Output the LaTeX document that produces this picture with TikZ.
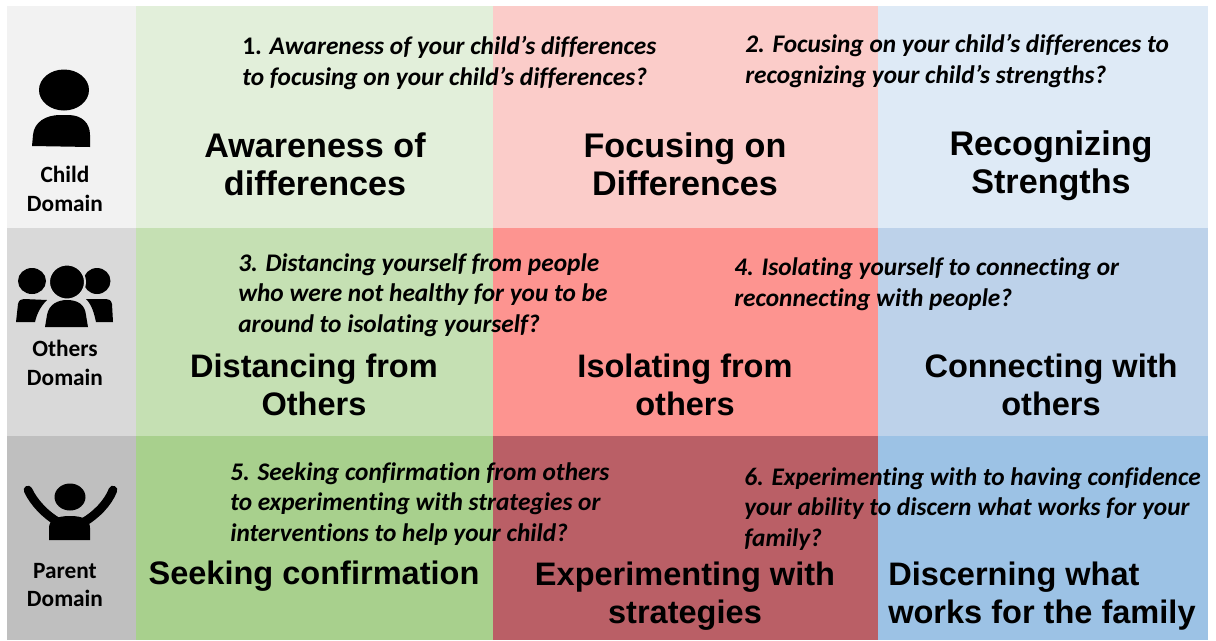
\documentclass[tikz,border=0pt]{standalone}
\usepackage{fontspec}
\setmainfont{Liberation Sans}
\newfontfamily\notefont[Ligatures=NoCommon]{Carlito}
\usetikzlibrary{calc}
\definecolor{childgray}{HTML}{F2F2F2}
\definecolor{othersgray}{HTML}{D9D9D9}
\definecolor{parentgray}{HTML}{BFBFBF}
\definecolor{childgreen}{HTML}{E2EFDA}
\definecolor{othersgreen}{HTML}{C5E0B3}
\definecolor{parentgreen}{HTML}{A8D08D}
\definecolor{childred}{HTML}{FBCCC9}
\definecolor{othersred}{HTML}{FD9490}
\definecolor{parentred}{HTML}{BA5F66}
\definecolor{childblue}{HTML}{DEEAF6}
\definecolor{othersblue}{HTML}{BDD2EA}
\definecolor{parentblue}{HTML}{9CC2E5}
\tikzset{
  stagelabel/.style={align=center,font=\fontsize{24.4}{28.5}\selectfont\bfseries,text=black},
  stagetop/.style={stagelabel,font=\fontsize{25.6}{28.8}\selectfont\bfseries},
  domainlabel/.style={align=center,font=\notefont\fontsize{17.5}{21.5}\selectfont\bfseries,text=black},
  question/.style={align=left,anchor=west,inner sep=0pt,font=\notefont\fontsize{19}{23}\selectfont\bfseries\itshape,text=black}
}

\begin{document}
\begin{tikzpicture}[x=0.75pt,y=-0.75pt]
\useasboundingbox (0,0) rectangle (1216,640);
% Grid of coloured cells
\foreach \xa/\xb/\ya/\yb/\col in {
    7/136/6/228/childgray,7/136/228/436/othersgray,7/136/436/640/parentgray,
    136/493/6/228/childgreen,136/493/228/436/othersgreen,136/493/436/640/parentgreen,
    493/878/6/228/childred,493/878/228/436/othersred,493/878/436/640/parentred,
    878/1208/6/228/childblue,878/1208/228/436/othersblue,878/1208/436/640/parentblue} {
    \fill[\col] (\xa,\ya) rectangle (\xb,\yb);
}
% Child icon
\fill[black] (64,90) ellipse (25 and 20.5);
\fill[black] (32,146) -- (33,135) .. controls (34,122) and (46,115) .. (60,115)
    -- (68,115) .. controls (82,115) and (90,123) .. (90,135) -- (90,147) -- cycle;
% Others icon
\fill[black] (32,281) ellipse (14 and 13);
\fill[black] (97,281) ellipse (13.5 and 13);
\filldraw[black,draw=othersgray,line width=1.5pt] (67,282) ellipse (18 and 17.5);
\fill[black] (45,327) -- (47,315) .. controls (49,304) and (58,300) .. (67,300)
    .. controls (77,300) and (85,304) .. (86,315) -- (88,327) -- cycle;
\fill[black] (16,322) -- (18,304) .. controls (19,300) and (21,299) .. (24,299) -- (47,300)
    .. controls (41,306) and (37,313) .. (35,322) -- cycle;
\fill[black] (113,322) -- (112,304) .. controls (111,300) and (109,299) .. (106,299) -- (86,299)
    .. controls (92,305) and (94,313) .. (96,322) -- cycle;
% Parent icon
\fill[black] (70,497) ellipse (15.5 and 13.5);
\draw[black,line width=6.5pt,line cap=round] (28,490) .. controls (34,503) and (46,515) .. (58,522);
\draw[black,line width=6.5pt,line cap=round] (113,490) .. controls (108,503) and (96,515) .. (84,522);
\fill[black] (49,540) -- (49,528) .. controls (49,520) and (56,516) .. (70,516)
    .. controls (84,516) and (90,520) .. (90,528) -- (90,540) -- cycle;
% Domain labels
\node[domainlabel] (childdomain) at (65,189) {Child\\Domain};
\node[domainlabel] (othersdomain) at (65,363) {Others\\Domain};
\node[domainlabel] (parentdomain) at (65,585) {Parent\\Domain};
% Stages
\node[stagetop] (awareness) at (315,164) {Awareness of\\differences};
\node[stagetop] (focusing) at (685,164) {Focusing on\\Differences};
\node[stagetop] (recognizing) at (1051,166) {Recognizing\\Strengths};
\node[stagelabel] (distancing) at (314,385) {Distancing from\\Others};
\node[stagelabel] (isolating) at (685,385) {Isolating from\\others};
\node[stagelabel] (connecting) at (1051,385) {Connecting with\\others};
\node[stagelabel] (seeking) at (314,576) {Seeking confirmation};
\node[stagelabel] (experimenting) at (685,596) {Experimenting with\\strategies};
\node[stagelabel,align=left,anchor=west,inner sep=0pt] (discerning) at (888,596) {Discerning what\\works for the family};
% Questions
\node[question] (qone) at (242,63) {{\upshape 1.} Awareness of your child’s differences\\to focusing on your child’s differences?};
\node[question] (qtwo) at (745,61) {2. Focusing on your child’s differences to\\recognizing your child’s strengths?};
\node[question] (qthree) at (238,295) {3. Distancing yourself from people\\who were not healthy for you to be\\around to isolating yourself?};
\node[question] (qfour) at (734,284) {4. Isolating yourself to connecting or\\reconnecting with people?};
\node[question] (qfive) at (230,504) {5. Seeking confirmation from others\\to experimenting with strategies or\\interventions to help your child?};
\node[question] (qsix) at (744,509) {6. Experimenting with to having confidence\\your ability to discern what works for your\\family?};
\end{tikzpicture}
\end{document}
